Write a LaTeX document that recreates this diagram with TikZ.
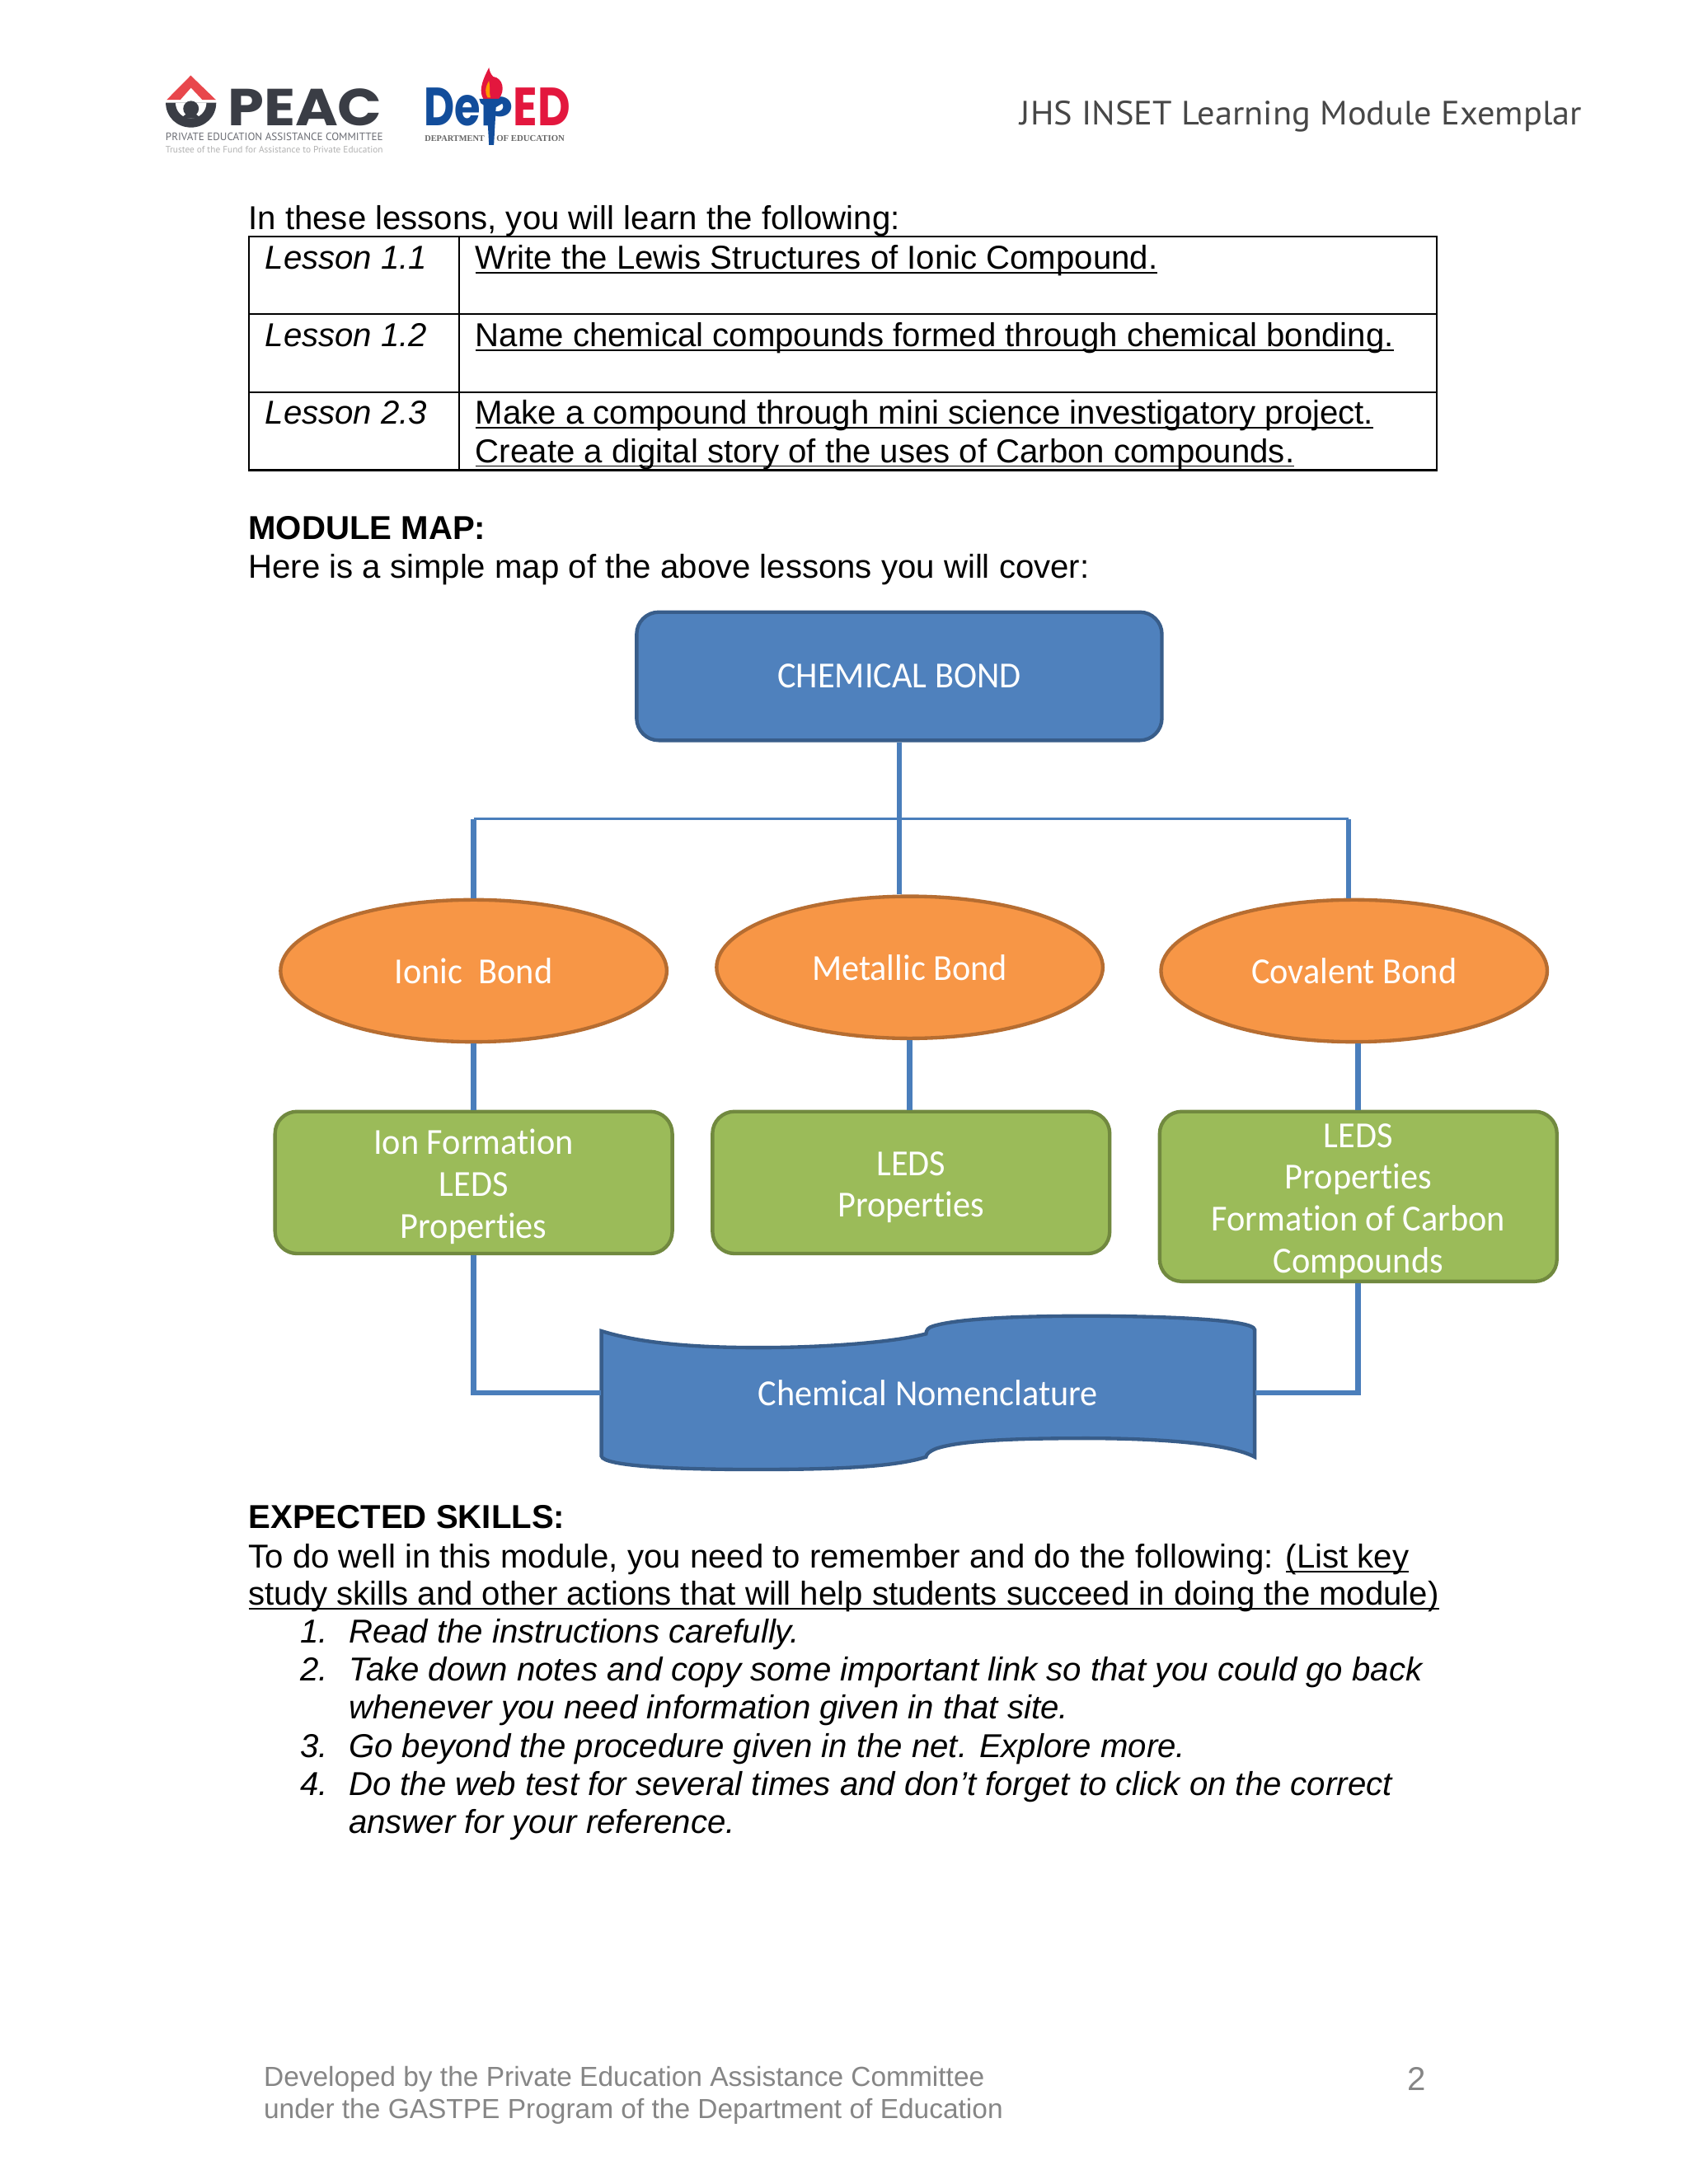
\documentclass[tikz,border=0pt]{standalone}
\usepackage{fontspec}
\usepackage{graphicx}
\usetikzlibrary{shapes.geometric}
\setmainfont{Liberation Sans}
\newfontfamily\calfont[FakeStretch=0.95,RawFeature={-liga}]{Carlito}
\newfontfamily\popfont{Poppins}
\newfontfamily\ptfont{PT Sans}
\newfontfamily\serfont{Liberation Serif}
\definecolor{bluefill}{HTML}{4F81BD}
\definecolor{blueedge}{HTML}{385D8A}
\definecolor{orangefill}{HTML}{F79646}
\definecolor{orangeedge}{HTML}{B66D31}
\definecolor{greenfill}{HTML}{9BBB59}
\definecolor{greenedge}{HTML}{71893F}
\definecolor{linkblue}{HTML}{4A7EBB}
\definecolor{peacdark}{HTML}{3A3D45}
\definecolor{peacred}{HTML}{E8474C}
\definecolor{depblue}{HTML}{124D9B}
\definecolor{depred}{HTML}{E3173E}
\newsavebox{\ulbox}
\newcommand{\ulin}[1]{\sbox{\ulbox}{#1}\leavevmode\rlap{\rule[-1.6pt]{\wd\ulbox}{0.55pt}}\usebox{\ulbox}}
\newcommand{\toppad}{\rule{0pt}{12pt}}
\tikzset{
  x=0.505pt,y=-0.505pt,
  body/.style={anchor=base west,inner sep=0pt,font=\fontsize{12}{14}\selectfont},
  foot/.style={anchor=base west,inner sep=0pt,text=gray!95,font=\fontsize{10}{12}\selectfont},
  diagtext/.style={text=white,align=center,inner sep=0pt,font=\calfont\fontsize{13.3}{15.15}\selectfont},
  chembox/.style={diagtext,draw=blueedge,line width=1.3pt,fill=bluefill,rounded corners=8pt,minimum width=190.4pt,minimum height=46.5pt},
  bondell/.style={diagtext,ellipse,draw=orangeedge,line width=1.3pt,fill=orangefill,minimum width=140pt,minimum height=51.5pt},
  topicbox/.style={diagtext,draw=greenedge,line width=1.3pt,fill=greenfill,rounded corners=8pt,minimum width=144pt},
  linkthick/.style={draw=linkblue,line width=2pt},
  linkthin/.style={draw=linkblue,line width=1pt},
  logotext/.style={inner sep=0pt,anchor=base west},
}
\begin{document}
\begin{tikzpicture}
\useasboundingbox (0,0) rectangle (1212,1568);
\fill[white] (0,0) rectangle (1212,1568);

% PEAC logo
\fill[peacred] (136.9,54.2) -- (119.6,71.7) -- (129.4,71.7) -- (137.1,63) -- (145.3,71.7) -- (155,71.7) -- cycle;
\fill[peacdark] (119,73.7) -- (155.2,73.7) .. controls (155.2,84) and (147,91.5) .. (137.1,91.5) .. controls (127,91.5) and (119,84) .. (119,73.7) -- cycle;
\fill[white] (126,73.7) -- (148.2,73.7) .. controls (148.2,80) and (143,85) .. (137.1,85) .. controls (131,85) and (126,80) .. (126,73.7) -- cycle;
\fill[peacdark] (137.1,78) circle[radius=5.6];
\fill[peacdark] (130.5,85) .. controls (133,80) and (141,80) .. (143.7,85) -- cycle;
\node[logotext,text=peacdark] (peactext) at (163,90) {\resizebox{56pt}{13.4pt}{\popfont\bfseries PEAC}};
\node[logotext,text=peacdark!75] (peacsub) at (118.5,101) {\resizebox{78.8pt}{!}{\ptfont PRIVATE EDUCATION ASSISTANCE COMMITTEE}};
\node[logotext,text=black!30] (peactrust) at (118.5,109.5) {\resizebox{78.8pt}{!}{\ptfont Trustee of the Fund for Assistance to Private Education}};

% DepED logo
\node[logotext,text=depblue] (deptext) at (304,90.5) {\resizebox{20.5pt}{13.7pt}{\popfont\bfseries De}\resizebox{11.6pt}{10.5pt}{\raisebox{\depth}{\popfont\bfseries p}}};
\node[logotext,text=depred] (edtext) at (368,90.5) {\resizebox{20.7pt}{13.7pt}{\popfont\bfseries ED}};
\fill[depred] (351,48.5) .. controls (345,60) and (344,66) .. (347,71) -- (358,71) .. controls (363,65) and (361,56) .. (354,55) .. controls (352,53) and (351.5,51) .. (351,48.5) -- cycle;
\fill[orange!80!yellow] (351,58) .. controls (348,63) and (348,67) .. (350,70) -- (352,70) .. controls (351,66) and (352,62) .. (351,58) -- cycle;
\fill[depblue] (344,71) -- (362,71) -- (361,74) -- (356,77) -- (354.5,104) -- (351,104) -- (349.5,77) -- (345,74) -- cycle;
\node[logotext,text=black!60] (deptl) at (304.5,101.5) {\resizebox{21.7pt}{!}{\serfont\bfseries DEPARTMENT}};
\node[logotext,text=black!60] (depof) at (356,101.5) {\resizebox{24.7pt}{!}{\serfont\bfseries OF EDUCATION}};

% Header
\node[logotext,text=black!72] (header) at (732,89.6) {\resizebox{203.5pt}{8.7pt}{\ptfont JHS INSET Learning Module Exemplar}};

% Intro and table
\node[body] (intro) at (178,165) {In these lessons, you will learn the following:};
\draw[line width=0.7pt] (178.5,170) rectangle (1031.5,337.5);
\draw[line width=0.7pt] (178.5,225.5) -- (1031.5,225.5);
\draw[line width=0.7pt] (178.5,281.5) -- (1031.5,281.5);
\draw[line width=0.7pt] (329.5,170) -- (329.5,337.5);
\node[body,font=\fontsize{12}{14}\selectfont\itshape] (l1) at (190,193) {Lesson 1.1};
\node[body,font=\fontsize{12}{14}\selectfont\itshape] (l2) at (190,249) {Lesson 1.2};
\node[body,font=\fontsize{12}{14}\selectfont\itshape] (l3) at (190,304.5) {Lesson 2.3};
\node[body] (t1) at (341,193) {\ulin{Write the Lewis Structures of Ionic Compound.}};
\node[body] (t2) at (341,249) {\ulin{Name chemical compounds formed through chemical bonding.}};
\node[body] (t3) at (341,304.5) {\ulin{Make a compound through mini science investigatory project.}};
\node[body] (t4) at (341,332) {\ulin{Create a digital story of the uses of Carbon compounds.}};

\node[body,font=\fontsize{12}{14}\selectfont\bfseries] (mm) at (178,387) {MODULE MAP:};
\node[body] (here) at (178,415) {Here is a simple map of the above lessons you will cover:};

% Diagram
\coordinate (jl) at (340,588);
\coordinate (jm) at (645.5,588);
\coordinate (jr) at (968,588);
\node[chembox] (chem) at (645.5,485.5) {CHEMICAL BOND};
\node[bondell] (ionic) at (340,697) {Ionic\ \ Bond};
\node[bondell] (metal) at (653,694.5) {Metallic Bond};
\node[bondell] (coval) at (972,697) {Covalent Bond};
\node[topicbox,minimum height=51.5pt] (ibox) at (340,849) {\toppad Ion Formation\\LEDS\\Properties};
\node[topicbox,minimum height=51.5pt] (mbox) at (654,849) {\toppad LEDS\\Properties};
\node[topicbox,minimum height=61.6pt] (cbox) at (975,859) {\toppad LEDS\\Properties\\Formation of Carbon\\Compounds};
\fill[bluefill,draw=blueedge,line width=1.3pt] (431.7,955.6) .. controls (465,966) and (510,967.5) .. (545,967.5)
  .. controls (590,967.5) and (640,964) .. (664.7,957.6) .. controls (665,955) and (666,953) .. (670,952)
  .. controls (690,946) and (740,944.8) .. (780,944.8) .. controls (830,944.8) and (900,947) .. (900.6,954.6)
  -- (900.6,1046) .. controls (880,1035) and (820,1032.6) .. (780,1032.6)
  .. controls (730,1032.6) and (690,1034) .. (672,1040) .. controls (667,1042) and (665,1044) .. (664.7,1046)
  .. controls (640,1054) and (590,1055) .. (541,1055) .. controls (490,1055) and (433,1053) .. (431.7,1045.4) -- cycle;
\node[diagtext,minimum width=237pt,minimum height=45pt] (nom) at (666.2,1000) {Chemical Nomenclature};

\draw[linkthick] (chem.south) -- (jm) -- (jm |- metal.north);
\draw[linkthin] (jl) -- (jr);
\draw[linkthick] (jl) -- (ionic.north);
\draw[linkthick] (jr) -- (jr |- coval.north);
\draw[linkthick] (ionic.south) -- (ibox.north);
\draw[linkthick] (metal.south) -- (metal.south |- mbox.north);
\draw[linkthick] (cbox.north |- coval.south) -- (cbox.north);
\draw[linkthick] (ibox.south) |- (nom.west);
\draw[linkthick] (cbox.south) |- (nom.east);

% Expected skills
\node[body,font=\fontsize{12}{14}\selectfont\bfseries] (es) at (178,1097.5) {EXPECTED SKILLS:};
\node[body] (e1) at (178,1125.5) {To do well in this module, you need to remember and do the following: \ulin{(List key}};
\node[body] (e2) at (178,1152.5) {\ulin{study skills and other actions that will help students succeed in doing the module)}};
\tikzset{listtext/.style={body,font=\fontsize{12}{14}\selectfont\itshape}}
\node[listtext] (n1) at (215,1179.5) {1.};
\node[listtext] (s1) at (250,1179.5) {Read the instructions carefully.};
\node[listtext] (n2) at (215,1207) {2.};
\node[listtext] (s2) at (250,1207) {Take down notes and copy some important link so that you could go back};
\node[listtext] (s2b) at (250,1234) {whenever you need information given in that site.};
\node[listtext] (n3) at (215,1261.5) {3.};
\node[listtext] (s3) at (250,1261.5) {Go beyond the procedure given in the net. Explore more.};
\node[listtext] (n4) at (215,1289) {4.};
\node[listtext] (s4) at (250,1289) {Do the web test for several times and don’t forget to click on the correct};
\node[listtext] (s4b) at (250,1316) {answer for your reference.};

% Footer
\node[foot] (f1) at (189,1498) {Developed by the Private Education Assistance Committee};
\node[foot] (f2) at (189,1521) {under the GASTPE Program of the Department of Education};
\node[foot,font=\fontsize{12}{14}\selectfont] (pg) at (1010,1501) {2};
\end{tikzpicture}
\end{document}
